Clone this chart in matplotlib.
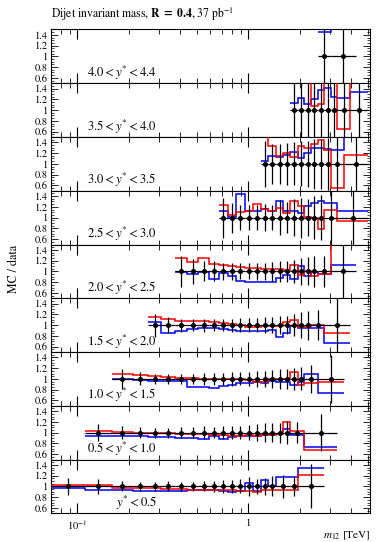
import numpy as np
import matplotlib
matplotlib.use("Agg")
import matplotlib.pyplot as plt
from matplotlib.ticker import FixedLocator, LogLocator, MultipleLocator, NullFormatter

plt.rcParams['font.family'] = 'STIXGeneral'
plt.rcParams['mathtext.fontset'] = 'stix'

# panel labels, top to bottom
labels = [r'$4.0 < y^{*} < 4.4$', r'$3.5 < y^{*} < 4.0$', r'$3.0 < y^{*} < 3.5$',
          r'$2.5 < y^{*} < 3.0$', r'$2.0 < y^{*} < 2.5$', r'$1.5 < y^{*} < 2.0$',
          r'$1.0 < y^{*} < 1.5$', r'$0.5 < y^{*} < 1.0$', r'$y^{*} < 0.5$']

######## 4.0 < y* < 4.4 ########
edges_8 = [2.55, 3.04, 4.27]
err_8 = [0.8, 0.8]
red_8 = [1.9, 1.9]
blue_8 = [1.46, 1.9]

######## 3.5 < y* < 4.0 ########
edges_7 = [1.76, 1.94, 2.12, 2.33, 2.55, 2.78, 3.04, 3.31, 3.93, 5.04]
err_7 = [0.7, 0.7, 0.7, 0.7, 0.7, 0.7, 0.7, 0.7, 0.7]
red_7 = [1.8, 1.8, 1.8, 1.08, 1.12, 1.8, 1.8, 0.64, 1.8]
blue_7 = [1.14, 1.22, 1.12, 1.20, 1.37, 1.42, 1.24, 1.23, 1.34]

######## 3.0 < y* < 3.5 ########
edges_6 = [1.18, 1.31, 1.45, 1.6, 1.76, 1.94, 2.12, 2.33, 2.55, 2.78, 3.04, 3.61, 5.04]
err_6 = [0.43, 0.37, 0.37, 0.39, 0.40, 0.42, 0.43, 0.46, 0.46, 0.49, 0.6, 0.7]
red_6 = [1.6, 1.34, 1.15, 1.2, 1.12, 1.33, 1.3, 1.37, 1.45, 1.25, 0.56, 1.17]
blue_6 = [1.05, 1.14, 1.12, 1.17, 1.22, 1.10, 1.20, 1.30, 1.30, 1.27, 1.26, 1.8]

######## 2.5 < y* < 3.0 ########
edges_5 = [0.67, 0.76, 0.85, 0.95, 1.06, 1.18, 1.31, 1.45, 1.6, 1.76, 1.94, 2.12, 2.33,
           2.55, 2.78, 3.31, 5.04]
err_5 = [0.37, 0.28, 0.23, 0.23, 0.23, 0.25, 0.23, 0.32, 0.29, 0.34, 0.37, 0.35, 0.40,
         0.42, 0.52, 0.6]
red_5 = [1.24, 1.04, 1.10, 1.13, 1.25, 1.16, 1.13, 1.18, 1.08, 1.31, 1.22, 1.02, 0.99,
         0.79, 1.15, 0.93]
blue_5 = [1.12, 1.02, 1.44, 1.13, 1.12, 1.16, 1.13, 1.30, 1.12, 1.12, 1.08, 1.22, 1.28,
          1.30, 1.28, 1.13]

######## 2.0 < y* < 2.5 ########
edges_4 = [0.37, 0.44, 0.51, 0.59, 0.67, 0.76, 0.85, 0.95, 1.06, 1.18, 1.31, 1.45, 1.6,
           1.76, 1.94, 2.12, 2.33, 2.55, 3.04, 4.27]
err_4 = [0.29, 0.23, 0.185, 0.185, 0.16, 0.16, 0.148, 0.148, 0.154, 0.16, 0.17, 0.19,
         0.19, 0.21, 0.25, 0.26, 0.29, 0.29, 0.55]
red_4 = [1.24, 1.18, 1.25, 1.13, 1.12, 1.10, 1.09, 1.07, 1.06, 1.05, 1.05, 1.04, 1.03,
         1.11, 0.93, 1.01, 0.92, 0.96, 1.8]
blue_4 = [0.99, 0.95, 0.98, 0.85, 0.97, 0.91, 0.83, 0.81, 0.80, 0.80, 0.81, 0.87, 0.93,
          0.85, 1.10, 0.92, 0.99, 0.95, 1.11]

######## 1.5 < y* < 2.0 ########
edges_3 = [0.26, 0.31, 0.37, 0.44, 0.51, 0.59, 0.67, 0.76, 0.85, 0.95, 1.06, 1.18, 1.31,
           1.45, 1.6, 1.76, 1.94, 2.12, 2.33, 2.78, 3.93]
err_3 = [0.216, 0.154, 0.123, 0.117, 0.123, 0.111, 0.117, 0.123, 0.13, 0.136, 0.136,
         0.145, 0.154, 0.173, 0.173, 0.2, 0.24, 0.27, 0.28, 0.6]
red_3 = [1.15, 1.11, 1.08, 1.08, 1.07, 1.05, 1.04, 1.02, 1.00, 0.97, 0.97, 0.98, 0.99,
         0.99, 1.05, 1.09, 0.96, 0.97, 1.01, 0.86]
blue_3 = [1.05, 0.86, 0.90, 0.93, 0.94, 0.94, 0.93, 0.91, 0.89, 0.89, 0.89, 0.90, 0.91,
          0.77, 0.86, 0.99, 0.95, 0.94, 0.95, 0.66]

######## 1.0 < y* < 1.5 ########
edges_2 = [0.16, 0.21, 0.26, 0.31, 0.37, 0.44, 0.51, 0.59, 0.67, 0.76, 0.85, 0.95, 1.06,
           1.18, 1.31, 1.45, 1.6, 1.76, 1.94, 2.12, 2.55, 3.61]
err_2 = [0.18, 0.123, 0.093, 0.086, 0.1, 0.1, 0.117, 0.117, 0.117, 0.13, 0.123, 0.136,
         0.145, 0.154, 0.173, 0.179, 0.185, 0.2, 0.216, 0.26, 0.45]
red_2 = [1.10, 1.07, 1.05, 1.03, 1.02, 1.01, 1.00, 1.00, 0.99, 0.99, 0.99, 0.98, 0.95,
         0.94, 0.99, 0.99, 1.00, 1.13, 0.89, 0.93, 0.94]
blue_2 = [1.00, 0.98, 0.97, 0.96, 0.96, 0.85, 0.85, 0.83, 0.86, 0.89, 0.92, 0.92, 0.95,
          0.93, 0.96, 0.94, 0.94, 0.89, 0.94, 1.09, 0.74]

######## 0.5 < y* < 1.0 ########
edges_1 = [0.11, 0.16, 0.21, 0.26, 0.31, 0.37, 0.44, 0.51, 0.59, 0.67, 0.76, 0.85, 0.95,
           1.06, 1.18, 1.31, 1.45, 1.6, 1.76, 2.12, 3.31]
err_1 = [0.154, 0.123, 0.099, 0.093, 0.093, 0.099, 0.099, 0.117, 0.099, 0.117, 0.123,
         0.123, 0.136, 0.154, 0.173, 0.173, 0.185, 0.216, 0.19, 0.34]
red_1 = [1.03, 1.02, 1.00, 0.99, 0.99, 0.98, 0.98, 0.97, 0.95, 0.95, 0.94, 0.94, 0.95,
         0.94, 0.95, 0.95, 0.98, 1.19, 1.03, 0.68]
blue_1 = [0.94, 0.93, 0.93, 0.92, 0.91, 0.90, 0.90, 0.89, 0.94, 0.88, 0.92, 0.93, 0.93,
          0.94, 0.95, 0.97, 0.97, 1.07, 0.95, 0.74]

######## y* < 0.5 ########
edges_0 = [0.07, 0.11, 0.16, 0.21, 0.26, 0.31, 0.37, 0.44, 0.51, 0.59, 0.67, 0.76, 0.85,
           0.95, 1.06, 1.18, 1.31, 1.45, 1.76, 1.94, 2.78]
err_0 = [0.154, 0.136, 0.093, 0.086, 0.08, 0.093, 0.08, 0.08, 0.093, 0.099, 0.117, 0.123,
         0.13, 0.17, 0.136, 0.16, 0.185, 0.216, 0.185, 0.41]
red_0 = [1.03, 1.03, 0.97, 0.97, 0.97, 0.96, 0.95, 0.94, 0.94, 0.94, 0.93, 0.93, 0.92,
         0.92, 0.90, 0.93, 0.94, 0.94, 0.94, 1.22]
blue_0 = [0.965, 0.93, 0.93, 0.91, 0.91, 0.91, 0.92, 0.93, 0.93, 0.93, 0.92, 0.89, 0.92,
          1.07, 0.92, 1.11, 1.01, 1.17, 1.17, 1.35]

panels = [
    (edges_8, err_8, red_8, blue_8),
    (edges_7, err_7, red_7, blue_7),
    (edges_6, err_6, red_6, blue_6),
    (edges_5, err_5, red_5, blue_5),
    (edges_4, err_4, red_4, blue_4),
    (edges_3, err_3, red_3, blue_3),
    (edges_2, err_2, red_2, blue_2),
    (edges_1, err_1, red_1, blue_1),
    (edges_0, err_0, red_0, blue_0),
]

fig, axes = plt.subplots(9, 1, sharex=True, figsize=(3.76, 5.42), dpi=100,
                         gridspec_kw=dict(hspace=0))
fig.subplots_adjust(left=0.1356, right=0.984, top=0.9456, bottom=0.053)

for ax, label, (edges, err, red, blue) in zip(axes, labels, panels):
    edges = np.array(edges)
    lo, hi = edges[:-1], edges[1:]
    centers = np.sqrt(lo * hi)

    ax.stairs(blue, edges, baseline=None, color='#0000ff', lw=1.1, zorder=3)
    ax.stairs(red, edges, baseline=None, color='#ff0000', lw=1.1, zorder=3)
    ax.errorbar(centers, np.ones_like(centers), xerr=[centers - lo, hi - centers],
                yerr=err, fmt='o', color='black', ms=2.6, elinewidth=0.9,
                capsize=0, zorder=5)

    ax.set_xscale('log')
    ax.set_xlim(0.07, 5.15)
    ax.set_ylim(0.5, 1.5)

    ax.xaxis.set_major_locator(FixedLocator([0.1, 1.0]))
    ax.xaxis.set_minor_locator(LogLocator(base=10, subs=np.arange(2, 10), numticks=20))
    ax.xaxis.set_minor_formatter(NullFormatter())
    ax.yaxis.set_major_locator(FixedLocator([0.6, 0.8, 1.0, 1.2, 1.4]))
    ax.yaxis.set_minor_locator(MultipleLocator(0.05))
    ax.set_yticklabels(['0.6', '0.8', '1', '1.2', '1.4'])

    ax.tick_params(which='both', direction='in', top=True, right=True, labelsize=7.5)
    ax.tick_params(axis='x', which='major', length=7, width=0.8)
    ax.tick_params(axis='x', which='minor', length=3.5, width=0.6)
    ax.tick_params(axis='y', which='major', length=5, width=0.6, pad=2)
    ax.tick_params(axis='y', which='minor', length=2.5, width=0.5)
    for s in ax.spines.values():
        s.set_linewidth(0.8)

    ax.text(0.332, 0.12, label, transform=ax.transAxes, ha='right', va='baseline',
            fontsize=9.2)

axes[-1].set_xticklabels([r'$10^{-1}$', '1'])
axes[-1].tick_params(axis='x', which='major', labelsize=7.5, pad=4)

fig.text(51 / 376, 1 - 14 / 542,
         r'Dijet invariant mass, $\mathbf{R}\ \mathbf{=}\ \mathbf{0.4}$, 37 pb$^{-1}$',
         ha='left', va='center', fontsize=8.4)
fig.text(14 / 376, 1 - 269 / 542, 'MC / data', rotation=90, ha='center', va='center',
         fontsize=8.6)
fig.text(370 / 376, 1 - 536 / 542, r'$m_{12}$ [TeV]', ha='right', va='center', fontsize=8)

fig.savefig('out.png', dpi=100)
